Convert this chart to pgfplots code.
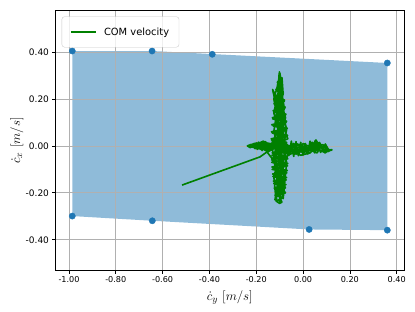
\documentclass[border=0pt]{standalone}
\usepackage[no-math]{fontspec}
\setmainfont{DejaVu Sans}
\usepackage{pgfplots}
\pgfplotsset{compat=1.18}
\definecolor{cA}{HTML}{1F77B4}
\definecolor{cG}{HTML}{008000}
\definecolor{gridc}{HTML}{B0B0B0}
\begin{document}
\begin{tikzpicture}
\begin{axis}[
  set layers,
  at={(0pt,0pt)}, anchor=south west,
  scale only axis,
  width=387.5pt, height=289pt,
  xmin=-1.0585, xmax=0.4325,
  ymin=-0.531, ymax=0.5775,
  xtick={-1,-0.8,-0.6,-0.4,-0.2,0,0.2,0.4},
  ytick={-0.4,-0.2,0,0.2,0.4},
  xtick pos=bottom, ytick pos=left,
  tick align=outside,
  major tick length=3.5pt,
  tick style={line width=0.8pt, black},
  axis line style={line width=0.8pt, black},
  grid=major,
  major grid style={line width=0.8pt, gridc},
  /pgf/number format/assume math mode=true,
  /pgf/number format/fixed,
  /pgf/number format/fixed zerofill,
  /pgf/number format/precision=2,
  xticklabel style={font=\fontsize{9}{11}\selectfont, inner sep=1pt, yshift=-2.3pt},
  yticklabel style={font=\fontsize{10}{12}\selectfont},
  xlabel={$\dot{c}_y\ [m/s]$},
  ylabel={$\dot{c}_x\ [m/s]$},
  xlabel style={font=\fontsize{15}{18}\selectfont, at={(axis description cs:0.5,-0.077)}, anchor=north, inner sep=0pt},
  ylabel style={font=\fontsize{15}{18}\selectfont, at={(axis description cs:-0.11,0.5)}, anchor=center},
  legend style={at={(axis description cs:0.0183,0.976)}, anchor=north west,
    draw=gridc!70, rounded corners=3pt, fill=white, fill opacity=0.8, text opacity=1,
    font=\fontsize{11}{13}\selectfont, inner xsep=9pt, inner ysep=10pt,
    /tikz/every odd column/.append style={column sep=6pt}},
  legend image code/.code={\draw[cG, line width=1.8pt] (0pt,0pt) -- (28pt,0pt);},
]
\addplot[fill=cA, fill opacity=0.5, draw=none, on layer=axis background, forget plot] coordinates {
(-0.986,0.404) (-0.645,0.404) (-0.388,0.391) (0.360,0.353) (0.360,-0.359) (0.026,-0.356) (-0.644,-0.319) (-0.986,-0.299)
} -- cycle;
\addplot[only marks, mark=*, mark size=3.5pt, cA, mark options={draw=cA, fill=cA}, forget plot] coordinates {
(-0.986,0.404) (-0.645,0.404) (-0.388,0.390) (0.360,0.353) (0.360,-0.359) (0.026,-0.356) (-0.644,-0.319) (-0.986,-0.299)
};
\addplot[cG, line width=1.8pt, line join=round] coordinates {
(-0.517,-0.167) (-0.184,-0.047) (-0.16,-0.03) (-0.12,-0.01) (-0.105,0.05) (-0.11,0.12) (-0.095,0.18) (-0.12,0.22)
(-0.10,0.14) (-0.085,0.06) (-0.095,-0.02) (-0.11,-0.09) (-0.09,-0.15) (-0.10,-0.21) (-0.115,-0.12) (-0.08,-0.05)
(-0.14,0.01) (-0.20,0.012) (-0.238,0.000) (-0.19,-0.01) (-0.15,0.005) (-0.10,0.0) (-0.05,-0.01) (-0.02,0.005)
(0.01,-0.025) (-0.04,-0.015) (-0.09,0.02) (-0.105,0.10) (-0.125,0.20) (-0.105,0.27) (-0.101,0.315) (-0.095,0.25)
(-0.08,0.16) (-0.10,0.08) (-0.13,0.02) (-0.10,-0.05) (-0.125,-0.13) (-0.115,-0.235) (-0.105,-0.16) (-0.09,-0.08)
(-0.07,-0.02) (-0.03,0.01) (0.02,-0.01) (0.04,0.015) (0.06,-0.02) (0.05,0.02) (0.08,-0.01) (0.10,-0.02)
(0.123,-0.018) (0.09,-0.025) (0.07,0.01) (0.03,-0.03) (-0.01,-0.04) (-0.06,-0.01) (-0.10,0.03) (-0.115,0.11)
(-0.09,0.19) (-0.11,0.26) (-0.10,0.21) (-0.075,0.12) (-0.095,0.04) (-0.12,-0.03) (-0.08,-0.11) (-0.10,-0.245)
(-0.095,-0.17) (-0.12,-0.07) (-0.17,-0.005) (-0.215,0.008) (-0.18,-0.015) (-0.13,0.01) (-0.085,-0.005) (-0.07,0.07)
(-0.09,0.15) (-0.13,0.24) (-0.115,0.17) (-0.105,0.09) (-0.09,0.0) (-0.07,-0.07) (-0.085,-0.225) (-0.09,-0.14)
(-0.13,-0.06) (-0.11,0.01) (-0.06,-0.03) (-0.01,0.0) (0.03,-0.02) (0.055,0.025) (0.075,-0.005) (0.06,-0.03)
(0.02,-0.01) (-0.03,-0.035) (-0.08,0.0) (-0.095,0.07) (-0.115,0.13) (-0.085,0.22) (-0.09,0.29) (-0.105,0.19)
(-0.125,0.06) (-0.10,-0.02) (-0.11,-0.10) (-0.075,-0.18) (-0.105,-0.11) (-0.13,-0.02) (-0.16,0.015) (-0.20,-0.01)
(-0.14,-0.02) (-0.10,0.015) (-0.065,0.03) (-0.095,0.11) (-0.12,0.16) (-0.10,0.23) (-0.09,0.13) (-0.105,0.02)
(-0.12,-0.08) (-0.105,-0.20) (-0.095,-0.12) (-0.065,-0.04) (-0.02,-0.02) (0.0,0.01) (0.04,-0.01) (0.085,0.005)
(0.11,-0.015) (0.095,-0.03) (0.05,-0.005) (0.0,-0.03) (-0.05,0.005) (-0.10,-0.03) (-0.085,-0.10) (-0.11,-0.17)
(-0.12,-0.23) (-0.10,-0.13) (-0.09,-0.05) (-0.11,0.04) (-0.095,0.10) (-0.105,0.20) (-0.08,0.10) (-0.10,0.03)
(-0.15,-0.01) (-0.225,-0.005) (-0.17,0.02) (-0.12,-0.005) (-0.10,0.06) (-0.125,0.14) (-0.095,0.28) (-0.10,0.17)
(-0.09,0.05) (-0.10,-0.01) (-0.098,-0.03)
(-0.13,0.0) (-0.07,0.012) (-0.135,0.025) (-0.068,0.04) (-0.132,0.055) (-0.07,0.07) (-0.128,0.085) (-0.072,0.10)
(-0.13,0.115) (-0.075,0.13) (-0.125,0.145) (-0.078,0.16) (-0.122,0.175) (-0.08,0.19) (-0.118,0.205) (-0.085,0.22)
(-0.112,0.235) (-0.09,0.25) (-0.108,0.265) (-0.095,0.28) (-0.103,0.30) (-0.099,0.31)
(-0.096,0.29) (-0.11,0.27) (-0.088,0.255) (-0.116,0.24) (-0.084,0.225) (-0.12,0.21) (-0.079,0.195) (-0.124,0.18)
(-0.076,0.165) (-0.128,0.15) (-0.073,0.135) (-0.131,0.12) (-0.07,0.105) (-0.134,0.09) (-0.067,0.075) (-0.135,0.06)
(-0.066,0.045) (-0.136,0.03) (-0.07,0.015) (-0.13,0.0)
(-0.068,-0.015) (-0.132,-0.03) (-0.066,-0.045) (-0.134,-0.06) (-0.065,-0.075) (-0.133,-0.09) (-0.067,-0.105) (-0.13,-0.12)
(-0.07,-0.135) (-0.127,-0.15) (-0.073,-0.165) (-0.123,-0.18) (-0.078,-0.195) (-0.12,-0.21) (-0.085,-0.22) (-0.115,-0.235)
(-0.10,-0.245) (-0.09,-0.24) (-0.105,-0.21) (-0.075,-0.20)
(-0.118,-0.19) (-0.08,-0.175) (-0.125,-0.16) (-0.072,-0.145) (-0.129,-0.13) (-0.069,-0.115) (-0.132,-0.10) (-0.066,-0.085)
(-0.134,-0.07) (-0.065,-0.055) (-0.133,-0.04) (-0.067,-0.025) (-0.13,-0.01)
(-0.15,0.012) (-0.165,-0.018) (-0.18,0.014) (-0.195,-0.015) (-0.21,0.01) (-0.225,-0.008) (-0.238,0.0) (-0.222,0.006)
(-0.205,-0.012) (-0.19,0.016) (-0.175,-0.02) (-0.16,0.018) (-0.145,-0.022) (-0.13,0.02)
(-0.06,-0.04) (-0.05,0.02) (-0.04,-0.045) (-0.03,0.018) (-0.02,-0.042) (-0.01,0.015) (0.0,-0.04) (0.01,0.01)
(0.02,-0.03) (0.03,0.02) (0.045,-0.025) (0.055,0.022) (0.065,-0.02) (0.07,0.015) (0.085,-0.012) (0.095,0.008)
(0.11,-0.018) (0.123,-0.016) (0.105,-0.025) (0.09,0.0) (0.075,-0.028) (0.06,0.018) (0.05,-0.03) (0.035,0.01)
(0.02,-0.035) (0.0,0.0) (-0.02,-0.035) (-0.04,0.01) (-0.06,-0.03) (-0.08,0.01)
};
\addlegendentry{COM velocity}
\end{axis}
\pgfresetboundingbox
\path[use as bounding box] (-61.4pt,-45.2pt) rectangle (399.4pt,300.4pt);
\end{tikzpicture}
\end{document}
